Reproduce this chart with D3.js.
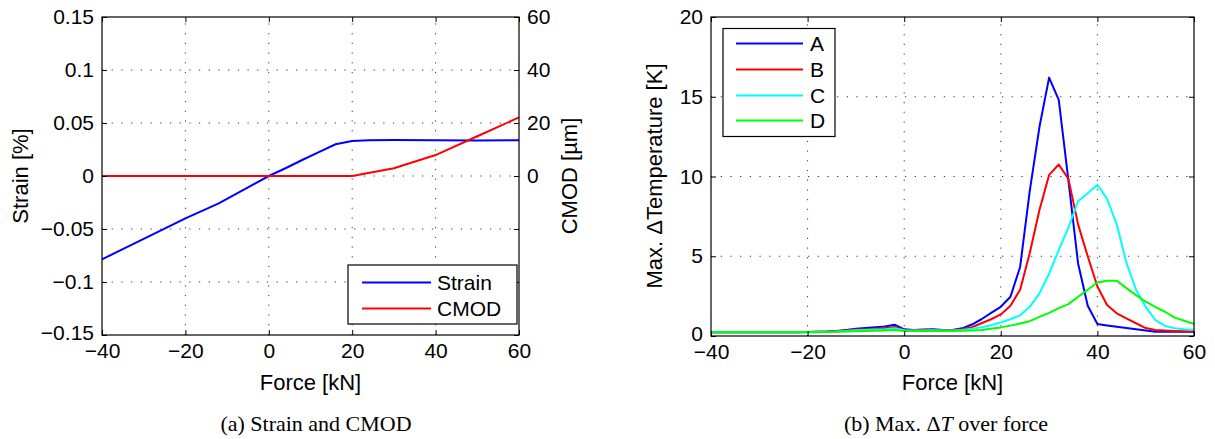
<!DOCTYPE html>
<html><head><meta charset="utf-8">
<script src="https://cdn.jsdelivr.net/npm/d3@7"></script>
<style>
body{margin:0;background:#fff}
svg text{font-family:"Liberation Sans",Arial,Helvetica,sans-serif;fill:#000}
</style>
</head><body>
<svg id="chart" width="1215" height="439"></svg>
<script>
// ---------- data (a) ----------
const strainForce  = [-40, -30, -20, -12, -4, 0, 4, 8, 12, 16, 20, 24, 30, 40, 50, 60];
const strainValues = [-0.0786, -0.0593, -0.040, -0.0258, -0.0086, 0, 0.0073, 0.0151, 0.0225, 0.0299, 0.0330, 0.0338, 0.0339, 0.0337, 0.0336, 0.0338];
const cmodForce  = [-40, 20, 30, 40, 50, 60];
const cmodValues = [0, 0, 2.9, 7.9, 15.0, 22.1];
const forceTicks  = [-40, -20, 0, 20, 40, 60];
const strainTicks = [-0.15, -0.1, -0.05, 0, 0.05, 0.1, 0.15];
const cmodTicks   = [-60, -40, -20, 0, 20, 40, 60];
const cmodLabelled = [0, 20, 40, 60];
const legendA = ["Strain", "CMOD"];

// ---------- data (b) ----------
const tempForce = [-40,-38,-36,-34,-32,-30,-28,-26,-24,-22,-20,-18,-16,-14,-12,-10,-8,-6,-4,-2,0,2,4,6,8,10,12,14,16,18,20,22,24,26,28,30,32,34,36,38,40,42,44,46,48,50,52,54,56,58,60];
const tempA = [0.23,0.23,0.23,0.23,0.23,0.23,0.23,0.24,0.24,0.24,0.25,0.26,0.28,0.32,0.38,0.45,0.50,0.55,0.60,0.71,0.42,0.38,0.40,0.42,0.38,0.38,0.48,0.72,1.05,1.45,1.83,2.46,4.33,9.1,13.1,16.2,14.8,9.75,4.55,1.9,0.75,0.66,0.58,0.50,0.42,0.34,0.27,0.27,0.27,0.27,0.27];
const tempB = [0.23,0.23,0.23,0.23,0.23,0.23,0.23,0.24,0.24,0.24,0.25,0.26,0.27,0.30,0.34,0.40,0.43,0.46,0.50,0.56,0.38,0.36,0.37,0.38,0.36,0.37,0.42,0.55,0.80,1.05,1.35,1.90,2.90,5.2,7.9,10.1,10.75,9.85,7.0,5.0,3.1,1.94,1.42,1.10,0.80,0.50,0.37,0.34,0.32,0.30,0.27];
const tempC = [0.23,0.23,0.23,0.23,0.23,0.23,0.23,0.24,0.24,0.24,0.24,0.25,0.26,0.28,0.32,0.36,0.38,0.40,0.42,0.48,0.36,0.34,0.35,0.36,0.35,0.35,0.38,0.45,0.55,0.68,0.85,1.05,1.30,1.83,2.67,3.9,5.4,6.8,8.45,8.95,9.48,8.6,7.0,4.6,2.9,1.83,1.0,0.63,0.48,0.42,0.38];
const tempD = [0.23,0.23,0.23,0.23,0.23,0.23,0.23,0.23,0.23,0.24,0.24,0.24,0.25,0.26,0.28,0.30,0.32,0.33,0.35,0.38,0.32,0.31,0.31,0.32,0.32,0.32,0.33,0.34,0.38,0.45,0.54,0.65,0.78,0.93,1.20,1.45,1.75,2.0,2.46,2.9,3.35,3.46,3.46,3.0,2.56,2.15,1.83,1.52,1.15,0.96,0.75];
const tempTicks = [0, 5, 10, 15, 20];
const seriesNames = ["A", "B", "C", "D"];
const seriesColors = ["#0000ff", "#ff0000", "#00ffff", "#00ff00"];

// ---------- helpers ----------
const svg = d3.select("#chart");
const fmt = d => d < 0 ? "\u2212" + String(Math.abs(d)) : String(d);
const TICK_FS = 21, LABEL_FS = 22, LEG_FS = 21;

function frame(g, x, y, xTicks, yTicks) {
  const [x0, x1] = x.range(), [y0, y1] = y.range();
  const gg = g.append("g").attr("stroke", "#333").attr("stroke-width", 1).attr("stroke-dasharray", "1.2,8.5");
  xTicks.filter(t => t !== x.domain()[0] && t !== x.domain()[1]).forEach(t =>
    gg.append("line").attr("x1", x(t)).attr("x2", x(t)).attr("y1", y0).attr("y2", y1));
  yTicks.filter(t => t !== y.domain()[0] && t !== y.domain()[1]).forEach(t =>
    gg.append("line").attr("x1", x0).attr("x2", x1).attr("y1", y(t)).attr("y2", y(t)));
}

function axes(g, x, y, xTicks, yTicks, yFmt) {
  const [x0, x1] = x.range(), [y0, y1] = y.range();
  const bottom = g.append("g").attr("transform", `translate(0,${y0})`)
    .call(d3.axisBottom(x).tickValues(xTicks).tickFormat(fmt).tickSizeInner(-5).tickSizeOuter(0).tickPadding(8));
  const top = g.append("g").attr("transform", `translate(0,${y1})`)
    .call(d3.axisTop(x).tickValues(xTicks).tickFormat("").tickSizeInner(-5).tickSizeOuter(0));
  const left = g.append("g").attr("transform", `translate(${x0},0)`)
    .call(d3.axisLeft(y).tickValues(yTicks).tickFormat(yFmt).tickSizeInner(-5).tickSizeOuter(0).tickPadding(8));
  [bottom, top, left].forEach(a => {
    a.select(".domain").remove();
    a.selectAll("text").attr("font-size", TICK_FS).style("font-family", '"Liberation Sans",Arial,sans-serif');
    a.selectAll("line").attr("stroke", "#000");
  });
  // keep the lowest y label clear of the first x label (both exist in the reference)
  left.selectAll(".tick").filter(d => d === y.domain()[0]).select("text").attr("dy", "0.22em");
  return {bottom, top, left};
}

function box(g, x, y) {
  const [x0, x1] = x.range(), [y0, y1] = y.range();
  g.append("rect").attr("x", x0).attr("y", y1).attr("width", x1 - x0).attr("height", y0 - y1)
    .attr("fill", "none").attr("stroke", "#000").attr("stroke-width", 1.2);
}

// ================= Panel (a) =================
const xa = d3.scaleLinear().domain([-40, 60]).range([102, 519]);
const ya = d3.scaleLinear().domain([-0.15, 0.15]).range([335, 17]);
const yc = d3.scaleLinear().domain([-60, 60]).range([335, 17]);
const ga = svg.append("g");
frame(ga, xa, ya, forceTicks, strainTicks);

const lineA = d3.line().x(d => xa(d[0])).y(d => ya(d[1]));
const lineC = d3.line().x(d => xa(d[0])).y(d => yc(d[1]));
ga.append("path").datum(strainForce.map((f, i) => [f, strainValues[i]]))
  .attr("d", lineA).attr("fill", "none").attr("stroke", "#0000ff").attr("stroke-width", 2);
ga.append("path").datum(cmodForce.map((f, i) => [f, cmodValues[i]]))
  .attr("d", lineC).attr("fill", "none").attr("stroke", "#ff0000").attr("stroke-width", 2);

axes(ga, xa, ya, forceTicks, strainTicks, fmt);
const right = ga.append("g").attr("transform", `translate(${xa.range()[1]},0)`)
  .call(d3.axisRight(yc).tickValues(cmodTicks).tickFormat(d => cmodLabelled.includes(d) ? fmt(d) : "")
    .tickSizeInner(-5).tickSizeOuter(0).tickPadding(8));
right.select(".domain").remove();
right.selectAll("text").attr("font-size", TICK_FS);
right.selectAll("line").attr("stroke", "#000");
box(ga, xa, ya);

// legend (a)
const la = ga.append("g");
la.append("rect").attr("x", 348).attr("y", 265).attr("width", 169).attr("height", 59)
  .attr("fill", "#fff").attr("stroke", "#000").attr("stroke-width", 1.2);
[["#0000ff", 282.5], ["#ff0000", 308.5]].forEach(([c, yy], i) => {
  la.append("line").attr("x1", 362).attr("x2", 431).attr("y1", yy).attr("y2", yy)
    .attr("stroke", c).attr("stroke-width", 2);
  la.append("text").attr("x", 437).attr("y", yy).attr("dy", "0.36em")
    .attr("font-size", LEG_FS).text(legendA[i]);
});

// labels (a)
ga.append("text").attr("x", 310.5).attr("y", 390).attr("text-anchor", "middle")
  .attr("font-size", LABEL_FS).text("Force [kN]");
ga.append("text").attr("transform", "translate(28,176) rotate(-90)").attr("text-anchor", "middle")
  .attr("font-size", LABEL_FS).text("Strain [%]");
ga.append("text").attr("transform", "translate(577,176) rotate(-90)").attr("text-anchor", "middle")
  .attr("font-size", LABEL_FS).text("CMOD [\u00b5m]");
ga.append("text").attr("x", 316).attr("y", 431).attr("text-anchor", "middle")
  .attr("font-size", 22).style("font-family", '"Liberation Serif","Times New Roman",serif')
  .text("(a) Strain and CMOD");

// ================= Panel (b) =================
const xb = d3.scaleLinear().domain([-40, 60]).range([711, 1194]);
const yb = d3.scaleLinear().domain([0, 20]).range([336, 17]);
const gb = svg.append("g");
frame(gb, xb, yb, forceTicks, tempTicks);

const lineB = d3.line().x(d => xb(d[0])).y(d => yb(d[1]));
const temps = [tempA, tempB, tempC, tempD];
temps.forEach((vals, k) => {
  gb.append("path").datum(tempForce.map((f, i) => [f, vals[i]]))
    .attr("d", lineB).attr("fill", "none").attr("stroke", seriesColors[k])
    .attr("stroke-width", 2).attr("stroke-linejoin", "round");
});

axes(gb, xb, yb, forceTicks, tempTicks, fmt);
const rightB = gb.append("g").attr("transform", `translate(${xb.range()[1]},0)`)
  .call(d3.axisRight(yb).tickValues(tempTicks).tickFormat("").tickSizeInner(-5).tickSizeOuter(0));
rightB.select(".domain").remove();
rightB.selectAll("line").attr("stroke", "#000");
box(gb, xb, yb);

// legend (b)
const lb = gb.append("g");
lb.append("rect").attr("x", 723).attr("y", 28.5).attr("width", 112).attr("height", 108)
  .attr("fill", "#fff").attr("stroke", "#000").attr("stroke-width", 1.2);
const rowY = [43.5, 69.5, 95.5, 120.5];
seriesNames.forEach((n, i) => {
  lb.append("line").attr("x1", 736).attr("x2", 803).attr("y1", rowY[i]).attr("y2", rowY[i])
    .attr("stroke", seriesColors[i]).attr("stroke-width", 2);
  lb.append("text").attr("x", 810).attr("y", rowY[i]).attr("dy", "0.36em")
    .attr("font-size", LEG_FS).text(n);
});

// labels (b)
gb.append("text").attr("x", 952.5).attr("y", 390).attr("text-anchor", "middle")
  .attr("font-size", LABEL_FS).text("Force [kN]");
gb.append("text").attr("transform", "translate(662,176) rotate(-90)").attr("text-anchor", "middle")
  .attr("font-size", LABEL_FS).text("Max. \u0394Temperature [K]");
const cap = gb.append("text").attr("x", 946).attr("y", 431).attr("text-anchor", "middle")
  .attr("font-size", 22).style("font-family", '"Liberation Serif","Times New Roman",serif');
cap.append("tspan").text("(b) Max. \u0394");
cap.append("tspan").attr("font-style", "italic").text("T");
cap.append("tspan").text(" over force");
</script>
</body></html>
